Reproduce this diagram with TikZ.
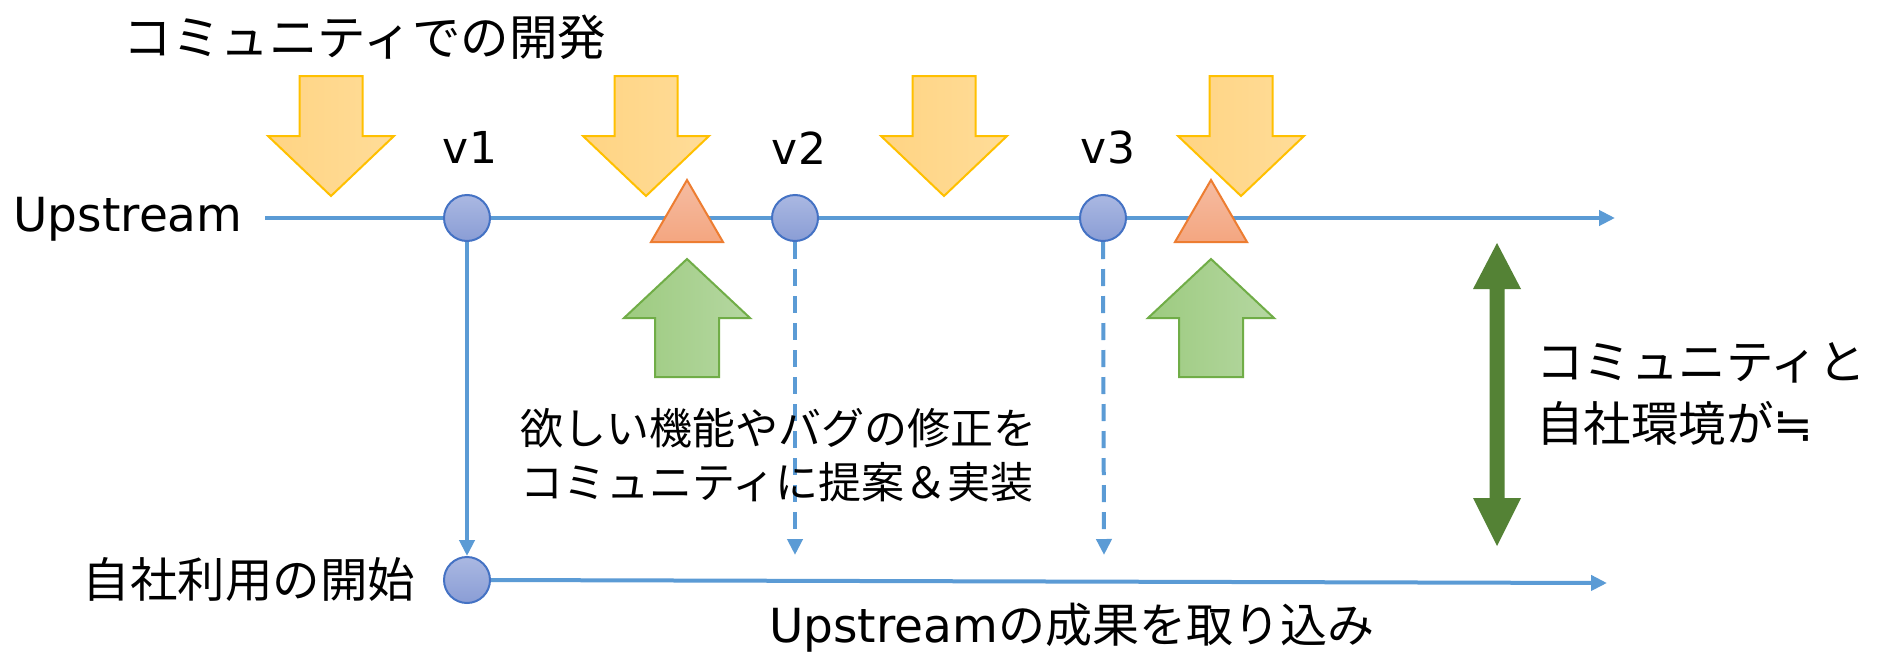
\documentclass[tikz,border=0pt]{standalone}
\usepackage{fontspec}
\newfontfamily\jp{Noto Sans CJK JP}
\newfontfamily\lat{DejaVu Sans}
\usetikzlibrary{arrows.meta,backgrounds}
\definecolor{lblue}{HTML}{5B9BD5}
\definecolor{yStroke}{HTML}{FFC000}
\definecolor{yL}{HTML}{FFD483}
\definecolor{yR}{HTML}{FFDC98}
\definecolor{cStroke}{HTML}{4472C4}
\definecolor{cTop}{HTML}{AAB8E2}
\definecolor{cBot}{HTML}{8A9DD5}
\definecolor{oStroke}{HTML}{ED7D31}
\definecolor{oTop}{HTML}{F5BCA2}
\definecolor{oBot}{HTML}{F4A680}
\definecolor{gStroke}{HTML}{70AD47}
\definecolor{gL}{HTML}{9DCB80}
\definecolor{gR}{HTML}{B5D7A1}
\definecolor{dgreen}{HTML}{548235}
\begin{document}
\begin{tikzpicture}[x=1pt,y=-1pt,
  yarrow/.style={draw=yStroke, line width=2pt, left color=yL, right color=yR, line join=miter},
  circ/.style={circle, draw=cStroke, line width=2pt, top color=cTop, bottom color=cBot, minimum size=46pt, inner sep=0pt},
  tri/.style={draw=oStroke, line width=2pt, top color=oTop, bottom color=oBot, line join=miter},
  garrow/.style={draw=gStroke, line width=2pt, left color=gL, right color=gR, line join=miter},
  flow/.style={draw=lblue, line width=4pt, -{Triangle[length=16pt,width=15pt]}},
  dflow/.style={flow, dash pattern=on 17pt off 10pt},
  txt/.style={inner sep=0pt, text=black}]
\useasboundingbox (0,0) rectangle (1884,656);

% yellow down arrows
\foreach \cx in {331,646,944,1241}{
  \begin{scope}[shift={(\cx,0)}]
    \draw[yarrow] (-31.5,76) -- (31.5,76) -- (31.5,136) -- (63,136) -- (0,196) -- (-63,136) -- (-31.5,136) -- cycle;
  \end{scope}
}

% version circles
\node[circ] (c1) at (467,218) {};
\node[circ] (c2) at (795,218) {};
\node[circ] (c3) at (1103,218) {};
\node[circ] (c0) at (467,580) {};
\coordinate (upL) at (265,218);
\coordinate (upR) at (1615,218);
\coordinate (d2) at (795,555);
\coordinate (d3) at (1104,555);
\coordinate (botR) at (1607,583);

\begin{scope}[on background layer]
  \fill[white] (0,0) rectangle (1884,656);
  \draw[flow] (upL) -- (upR);
  \draw[flow] (c1.south) -- (c0.north);
  \draw[dflow] (c2.south) -- (d2);
  \draw[dflow] (c3.south) -- (d3);
  \draw[flow] (c0.east) -- (botR);
\end{scope}

% orange triangles and green up arrows
\foreach \cx in {687,1211}{
  \begin{scope}[shift={(\cx,0)}]
    \draw[tri] (0,180) -- (36,242) -- (-36,242) -- cycle;
    \draw[garrow] (0,259) -- (63,318) -- (32,318) -- (32,377) -- (-32,377) -- (-32,318) -- (-63,318) -- cycle;
  \end{scope}
}

% dark green double arrow
\fill[dgreen] (1497,243) -- (1521,289) -- (1504.5,289) -- (1504.5,498) -- (1521,498) -- (1497,546)
  -- (1473,498) -- (1489.5,498) -- (1489.5,289) -- (1473,289) -- cycle;

% texts
\node[txt] (title) at (365,37) {\jp\fontsize{48.5}{56}\selectfont コミュニティでの開発};
\node[txt] (up) at (128,219) {\lat\fontsize{47}{54}\selectfont Upstream};
\node[txt, anchor=base] (v1) at (470,163) {\lat\fontsize{44}{52}\selectfont v1};
\node[txt, anchor=base] (v2) at (799,164) {\lat\fontsize{44}{52}\selectfont v2};
\node[txt, anchor=base] (v3) at (1108,163) {\lat\fontsize{44}{52}\selectfont v3};
\node[txt, anchor=west] (m1) at (520,428) {\jp\fontsize{43}{50}\selectfont 欲しい機能やバグの修正を};
\node[txt, anchor=west] (m2) at (520,482) {\jp\fontsize{43}{50}\selectfont コミュニティに提案＆実装};
\node[txt] (own) at (249,580) {\jp\fontsize{47.5}{54}\selectfont 自社利用の開始};
\node[txt, anchor=west] (r1) at (1536,363) {\jp\fontsize{47.5}{54}\selectfont コミュニティと};
\node[txt, anchor=west] (r2) at (1536,423) {\jp\fontsize{47.5}{54}\selectfont 自社環境が{\lat ≒}};
\node[txt, anchor=west] (bt) at (769,628) {{\lat\fontsize{47}{54}\selectfont Upstream}{\jp\fontsize{47}{54}\selectfont の成果を取り込み}};
\end{tikzpicture}
\end{document}
